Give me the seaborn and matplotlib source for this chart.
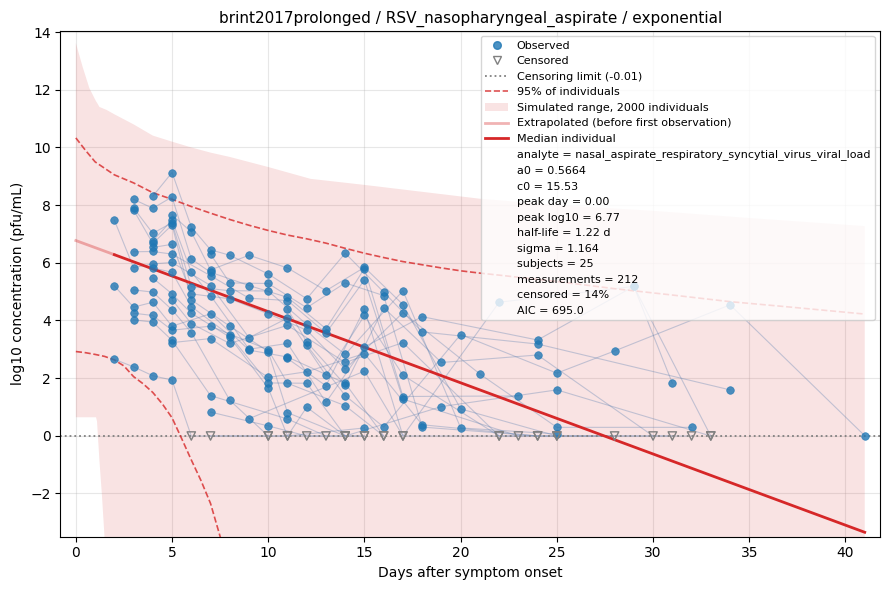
import numpy as np
import pandas as pd
import matplotlib
matplotlib.use("Agg")
import matplotlib.pyplot as plt
import seaborn as sns
from matplotlib.lines import Line2D
from matplotlib.patches import Patch

# ---------------- data ----------------
# one row per measurement: subject, day, log10 value, censored flag
subject = (
    ["S01"] * 11 + ["S02"] * 9 + ["S03"] * 6 + ["S04"] * 11 + ["S05"] * 11 +
    ["S06"] * 8 + ["S07"] * 10 + ["S08"] * 7 + ["S09"] * 8 + ["S10"] * 6 +
    ["S11"] * 12 + ["S12"] * 12 + ["S13"] * 11 + ["S14"] * 10 + ["S15"] * 7 +
    ["S16"] * 11 + ["S17"] * 8 + ["S18"] * 7 + ["S19"] * 9 + ["S20"] * 4 +
    ["S21"] * 8 + ["S22"] * 4 + ["S23"] * 7 + ["S24"] * 7 + ["S25"] * 4
)
day = [
    2, 3, 4, 5, 7, 9, 11, 13, 15, 17, 22,            # S01
    2, 3, 4, 5, 7, 9, 11, 14, 16,                    # S02
    2, 3, 4, 5, 6, 10,                               # S03
    3, 4, 5, 6, 7, 9, 11, 13, 15, 17, 23,            # S04
    3, 4, 5, 6, 8, 10, 12, 14, 17, 20, 25,           # S05
    3, 4, 5, 6, 8, 10, 11, 14,                       # S06
    3, 4, 5, 7, 9, 11, 13, 15, 17, 23,               # S07
    3, 4, 5, 6, 8, 10, 15,                           # S08
    3, 4, 5, 7, 10, 11, 14, 16,                      # S09
    3, 4, 5, 7, 11, 13,                              # S10
    4, 5, 6, 7, 8, 10, 12, 14, 16, 18, 24, 34,       # S11
    4, 5, 6, 7, 9, 11, 13, 15, 18, 24, 31, 29,       # S12 (sorted later)
    4, 5, 6, 8, 10, 12, 14, 17, 21, 25, 32,          # S13
    4, 5, 6, 8, 10, 12, 14, 19, 25, 33,              # S14
    4, 5, 6, 8, 10, 11, 15,                          # S15
    5, 6, 7, 9, 11, 13, 15, 17, 20, 25, 32,          # S16
    5, 6, 8, 11, 14, 17, 22, 28,                     # S17
    5, 7, 10, 12, 15, 18, 24,                        # S18
    7, 8, 10, 12, 14, 16, 18, 24, 31,                # S19
    7, 10, 12, 15,                                   # S20
    12, 14, 16, 20, 25, 28, 34, 41,                  # S21
    7, 11, 12, 14,                                   # S22
    11, 12, 14, 16, 19, 24, 30,                      # S23
    11, 13, 15, 17, 22, 29, 33,                      # S24
    9, 15, 17, 25,                                   # S25
]
log10_value = [
    7.48, 5.83, 5.96, 6.01, 5.21, 3.40, 4.08, 2.09, 4.17, 2.10, -0.01,
    5.20, 4.46, 4.63, 3.80, 4.23, 2.97, 2.73, 1.82, -0.01,
    2.65, 2.39, 2.08, 1.93, -0.01, -0.01,
    8.20, 7.89, 8.28, 6.13, 5.67, 5.21, 4.80, 3.71, 5.80, 1.36, 1.38,
    7.90, 7.02, 7.39, 5.17, 5.03, 5.02, 3.86, 2.82, 5.03, 0.27, 0.06,
    7.83, 6.67, 7.31, 4.71, 3.80, 2.92, 0.80, -0.01,
    6.38, 6.39, 6.30, 5.55, 4.77, 4.69, 3.56, 5.40, 1.27, -0.01,
    5.06, 4.98, 4.37, 3.58, 1.23, -0.01, -0.01,
    4.25, 4.17, 3.66, 3.80, 2.98, 1.82, 1.04, -0.01,
    4.02, 3.94, 3.31, 1.39, 0.58, -0.01,
    8.31, 9.13, 7.24, 6.45, 6.26, 5.61, 4.75, 6.33, 4.98, 3.60, 3.18, 1.59,
    6.76, 7.48, 5.68, 4.86, 3.00, 3.20, 1.16, 3.08, 4.13, 3.32, 1.82, 5.18,
    6.53, 6.64, 4.92, 4.75, 4.23, 3.66, 2.31, 4.27, 2.14, 0.29, 0.29,
    5.82, 5.67, 4.48, 3.48, 1.83, 1.82, -0.01, 1.01, 1.59, -0.01,
    5.47, 4.92, 4.25, 3.42, 1.65, -0.01, 0.27,
    7.66, 7.07, 5.75, 6.26, 5.82, 5.03, 5.84, 4.55, 0.93, -0.01, -0.01,
    4.72, 3.89, 3.20, 3.83, 2.54, 3.23, -0.01, -0.01,
    3.23, 3.37, 2.02, 2.22, 2.85, 0.38, -0.01,
    6.30, 5.30, 5.28, 4.44, 5.30, 4.86, 0.30, -0.01, -0.01,
    0.82, 0.34, -0.01, -0.01,
    3.14, 1.39, 0.30, 3.51, 2.17, 2.94, 4.54, 0.00,
    -0.01, -0.01, 0.99, -0.01,
    4.40, 3.25, 1.76, 4.44, 2.54, 2.80, -0.01,
    2.68, 1.73, 4.40, -0.01, 4.63, 5.18, -0.01,
    0.59, 2.24, -0.01, -0.01,
]
is_censored = [v == -0.01 for v in log10_value]

# simulated range (2000 individuals)
band_days = [0, 0.35, 0.7, 1.05, 1.1, 1.23, 1.35, 1.49, 1.6, 2, 3, 4, 5, 6, 7, 8,
             10, 12.2, 15, 20, 21, 25, 30, 35, 41]
band_upper = [13.62, 12.8, 12.06, 11.6, 11.55, 11.4, 11.37, 11.33, 11.3, 11.15,
              10.8, 10.41, 10.2, 10.0, 9.82, 9.67, 9.32, 8.91, 8.7, 8.3, 8.22,
              8.0, 7.8, 7.55, 7.27]
band_lower = [0.64, 0.64, 0.64, 0.64, 0.5, -0.9, -2.0, -3.5, -10, -10, -10, -10,
              -10, -10, -10, -10, -10, -10, -10, -10, -10, -10, -10, -10, -10]

# 95% of individuals
p95_hi_days = [0, 0.5, 1, 2, 3, 4, 5, 6, 7, 8, 9, 10, 11, 12, 13, 14, 15, 16, 17,
               18, 19, 20, 21, 22, 25, 28, 31, 34, 37, 41]
p95_hi = [10.33, 9.9, 9.5, 9.05, 8.77, 8.43, 8.2, 7.95, 7.72, 7.5, 7.3, 7.12, 6.96,
          6.83, 6.68, 6.5, 6.33, 6.18, 6.04, 5.93, 5.82, 5.72, 5.64, 5.57, 5.35,
          5.1, 4.88, 4.65, 4.47, 4.22]
p95_lo_days = [0, 0.5, 1, 1.5, 2, 2.5, 3, 3.5, 4, 4.5, 5, 5.5, 6, 6.5, 7, 7.5, 8]
p95_lo = [2.92, 2.88, 2.82, 2.75, 2.63, 2.42, 2.05, 1.8, 1.5, 1.1, 0.62, -0.1,
          -0.84, -1.55, -2.35, -3.5, -4.8]

# median individual
extrap_days = [0, 2]
extrap_vals = [6.77, 6.28]
median_days = [2, 41]
median_vals = [6.28, -3.35]

censor_limit = -0.01
stats_lines = [
    "analyte = nasal_aspirate_respiratory_syncytial_virus_viral_load",
    "a0 = 0.5664",
    "c0 = 15.53",
    "peak day = 0.00",
    "peak log10 = 6.77",
    "half-life = 1.22 d",
    "sigma = 1.164",
    "subjects = 25",
    "measurements = 212",
    "censored = 14%",
    "AIC = 695.0",
]

# ---------------- plotting ----------------
df = pd.DataFrame({"subject": subject, "day": day, "value": log10_value,
                   "censored": is_censored}).sort_values(["subject", "day"])

red = "#d62728"
blue = "#1f77b4"

fig, ax = plt.subplots(figsize=(8.89, 5.9), dpi=100)

ax.fill_between(band_days, band_upper, band_lower, color=red, alpha=0.13,
                linewidth=0, zorder=1)

sns.lineplot(data=df, x="day", y="value", units="subject", estimator=None,
             sort=True, color="#5a7fb0", alpha=0.35, linewidth=0.8, ax=ax,
             legend=False, zorder=2)

ax.axhline(censor_limit, color="gray", linestyle=":", linewidth=1.3, zorder=2)
ax.plot(p95_hi_days, p95_hi, color=red, linestyle="--", linewidth=1.2, alpha=0.8, zorder=3)
ax.plot(p95_lo_days, p95_lo, color=red, linestyle="--", linewidth=1.2, alpha=0.8, zorder=3)
ax.plot(extrap_days, extrap_vals, color=red, linewidth=2, alpha=0.35, zorder=3)
ax.plot(median_days, median_vals, color=red, linewidth=2, zorder=3)

obs = df[~df["censored"]]
cen = df[df["censored"]]
sns.scatterplot(data=obs, x="day", y="value", color=blue, alpha=0.8, s=30,
                edgecolor=blue, linewidth=0.5, ax=ax, zorder=4, legend=False)
ax.scatter(cen["day"], cen["value"], marker="v", s=36, facecolors="none",
           edgecolors="gray", linewidths=1.0, zorder=4)

ax.set_xlim(-0.8, 41.8)
ax.set_ylim(-3.5, 14.05)
ax.grid(True, alpha=0.3)
ax.set_axisbelow(True)
ax.set_xlabel("Days after symptom onset")
ax.set_ylabel("log10 concentration (pfu/mL)")
ax.set_title("brint2017prolonged / RSV_nasopharyngeal_aspirate / exponential", fontsize=11)

handles = [
    Line2D([], [], marker="o", linestyle="none", color=blue, alpha=0.8, markersize=5.5),
    Line2D([], [], marker="v", linestyle="none", markerfacecolor="none",
           markeredgecolor="gray", markersize=6),
    Line2D([], [], color="gray", linestyle=":", linewidth=1.3),
    Line2D([], [], color=red, linestyle="--", linewidth=1.2, alpha=0.8),
    Patch(facecolor=red, alpha=0.13, linewidth=0),
    Line2D([], [], color=red, linewidth=2, alpha=0.35),
    Line2D([], [], color=red, linewidth=2),
]
labels = ["Observed", "Censored", "Censoring limit (-0.01)", "95% of individuals",
          "Simulated range, 2000 individuals", "Extrapolated (before first observation)",
          "Median individual"]
for s in stats_lines:
    handles.append(Line2D([], [], linestyle="none"))
    labels.append(s)
ax.legend(handles, labels, loc="upper right", fontsize=8, framealpha=0.8)

fig.subplots_adjust(left=0.068, right=0.99, bottom=0.0905, top=0.948)
fig.savefig("out.png", dpi=100)
